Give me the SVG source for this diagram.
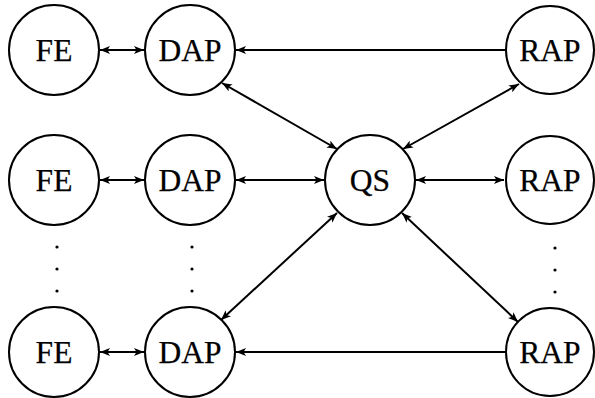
<svg xmlns="http://www.w3.org/2000/svg" width="595" height="398" viewBox="0 0 595 398">
  <style>
    .node circle { fill: #fff; stroke: #000; stroke-width: 2; }
    .node text { font-family: "Liberation Serif", "DejaVu Serif", serif; font-size: 31.5px; text-anchor: middle; dominant-baseline: central; fill: #000; stroke: #000; stroke-width: 0.25; }
    .edge { stroke: #000; stroke-width: 2; fill: none; }
    .both { marker-start: url(#arrow); marker-end: url(#arrow); }
    .one { marker-end: url(#arrow); }
    .dot { fill: #000; }
  </style>
  <defs>
    <marker id="arrow" viewBox="0 0 10 8" refX="10" refY="4" markerWidth="5" markerHeight="4" orient="auto-start-reverse" markerUnits="strokeWidth">
      <path d="M0,0 L10,4 L0,8 L2.5,4 Z" fill="#000"/>
    </marker>
  </defs>

  <rect width="595" height="398" fill="#fff"/>

  <g id="connectors">
    <!-- FE <-> DAP -->
    <line class="edge both" x1="100" y1="50" x2="144" y2="50"/>
    <line class="edge both" x1="100" y1="180" x2="144" y2="180"/>
    <line class="edge both" x1="100" y1="352" x2="144" y2="352"/>
    <!-- RAP -> DAP (top and bottom rows) -->
    <line class="edge one" x1="505" y1="50" x2="236" y2="50"/>
    <line class="edge one" x1="505" y1="352" x2="236" y2="352"/>
    <!-- middle row through QS -->
    <line class="edge both" x1="236" y1="180" x2="324" y2="180"/>
    <line class="edge both" x1="416" y1="180" x2="504" y2="180"/>
    <!-- diagonals to QS -->
    <line class="edge both" x1="222" y1="83" x2="337" y2="149"/>
    <line class="edge both" x1="519" y1="84" x2="403" y2="149"/>
    <line class="edge both" x1="337" y1="213" x2="221" y2="320"/>
    <line class="edge both" x1="402" y1="213" x2="518" y2="322"/>
  </g>

  <g id="fe1" class="node"><circle cx="54" cy="50" r="45"/><text x="54" y="50">FE</text></g>
  <g id="dap1" class="node"><circle cx="190" cy="50" r="45"/><text x="190" y="50">DAP</text></g>
  <g id="rap1" class="node"><circle cx="550" cy="50" r="44"/><text x="550" y="50">RAP</text></g>

  <g id="fe2" class="node"><circle cx="54" cy="180" r="45"/><text x="54" y="180">FE</text></g>
  <g id="dap2" class="node"><circle cx="190" cy="180" r="45"/><text x="190" y="180">DAP</text></g>
  <g id="qs" class="node"><circle cx="370" cy="180" r="45"/><text x="370" y="180">QS</text></g>
  <g id="rap2" class="node"><circle cx="550" cy="180" r="44"/><text x="550" y="180">RAP</text></g>

  <g id="fe3" class="node"><circle cx="54" cy="352" r="45"/><text x="54" y="352">FE</text></g>
  <g id="dap3" class="node"><circle cx="190" cy="352" r="45"/><text x="190" y="352">DAP</text></g>
  <g id="rap3" class="node"><circle cx="550" cy="352" r="44"/><text x="550" y="352">RAP</text></g>

  <!-- vertical ellipses between rows -->
  <g id="vdots">
    <circle class="dot" cx="57" cy="247" r="1.6"/>
    <circle class="dot" cx="57" cy="269" r="1.6"/>
    <circle class="dot" cx="57" cy="291" r="1.6"/>
    <circle class="dot" cx="192" cy="247" r="1.6"/>
    <circle class="dot" cx="192" cy="269" r="1.6"/>
    <circle class="dot" cx="192" cy="291" r="1.6"/>
    <circle class="dot" cx="555" cy="248" r="1.6"/>
    <circle class="dot" cx="555" cy="270" r="1.6"/>
    <circle class="dot" cx="555" cy="292" r="1.6"/>
  </g>
</svg>
